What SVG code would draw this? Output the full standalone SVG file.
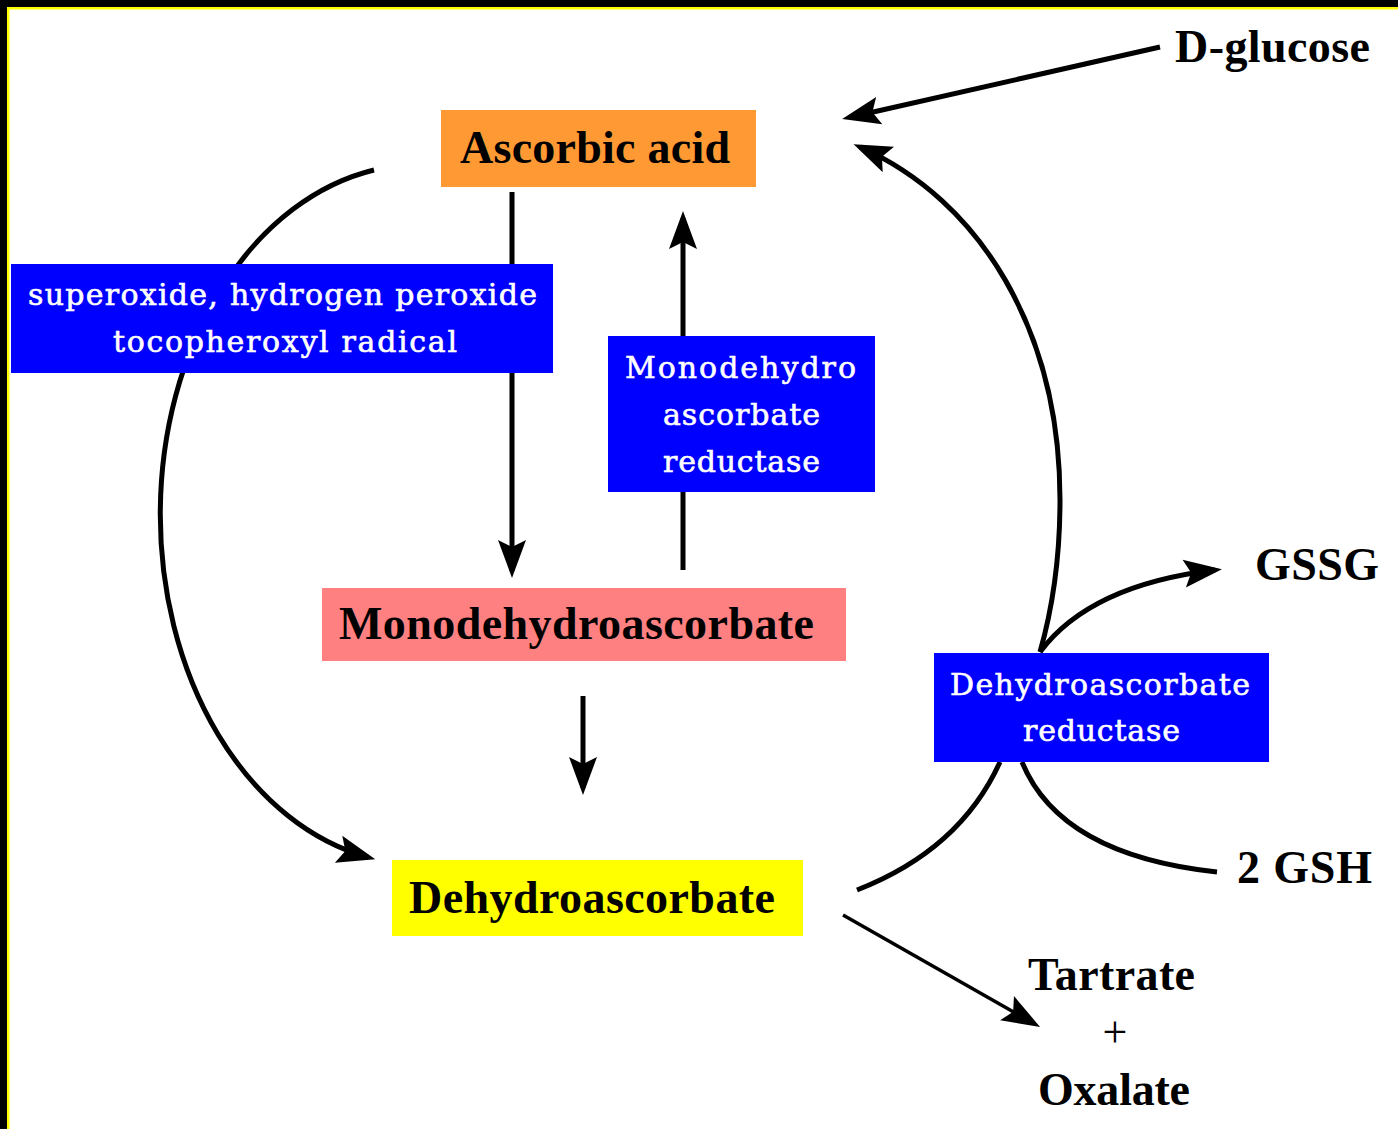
<svg xmlns="http://www.w3.org/2000/svg" width="1398" height="1129" viewBox="0 0 1398 1129">
<defs>
<marker id="ah" markerUnits="userSpaceOnUse" markerWidth="60" markerHeight="40" viewBox="-40 -20 60 40" refX="0" refY="0" orient="auto" overflow="visible">
<path d="M7,0 L-31,-14 L-24,0 L-31,14 Z" fill="#000"/>
</marker>
</defs>
<style>
.ln{fill:none;stroke:#000;stroke-width:5}
.thin{fill:none;stroke:#000;stroke-width:3.5}
.blk{font-family:"Liberation Serif","Times New Roman",serif;font-weight:bold;font-size:46px;fill:#000}
.wht{font-family:"DejaVu Serif",serif;font-size:30px;fill:#fff;stroke:#fff;stroke-width:0.6}
.enz{fill:#0000ff}
</style>
<rect x="0" y="0" width="1398" height="1129" fill="#fff"/>
<rect x="0" y="0" width="1398" height="7" fill="#000"/>
<rect x="0" y="0" width="7" height="1129" fill="#000"/>
<rect x="7" y="7" width="1391" height="2.5" fill="#ffff00"/>
<rect x="7" y="7" width="2.5" height="1122" fill="#ffff00"/>

<g id="connectors">
<line class="ln" x1="1160" y1="47" x2="849" y2="117.5" marker-end="url(#ah)"/>
<path class="ln" d="M1040,652 C1052,610 1060,560 1060,500 C1060,330 980,200 860,147" marker-end="url(#ah)"/>
<line class="ln" x1="512" y1="192" x2="512" y2="571" marker-end="url(#ah)"/>
<line class="ln" x1="683" y1="570" x2="683" y2="218" marker-end="url(#ah)"/>
<line class="ln" x1="583" y1="696" x2="583" y2="788" marker-end="url(#ah)"/>
<path class="ln" d="M374,170 A260,350 0 0 0 368.5,857.4" marker-end="url(#ah)"/>
<path class="ln" d="M857,890 Q960,850 1000,762"/>
<path class="ln" d="M1040,652 Q1090,585 1215,570" marker-end="url(#ah)"/>
<path class="ln" d="M1022,762 Q1060,855 1217,872"/>
<line class="thin" x1="843" y1="915" x2="1034" y2="1023.5" marker-end="url(#ah)"/>
</g>

<g id="ascorbic-acid">
<rect x="441" y="110" width="315" height="77" fill="#ff9933"/>
<text class="blk" x="460" y="163" textLength="270" lengthAdjust="spacing">Ascorbic acid</text>
</g>
<g id="superoxide">
<rect class="enz" x="11" y="264" width="542" height="109"/>
<text class="wht" x="28" y="305" textLength="509" lengthAdjust="spacing">superoxide, hydrogen peroxide</text>
<text class="wht" x="113" y="352" textLength="344" lengthAdjust="spacing">tocopheroxyl radical</text>
</g>
<g id="mdha-reductase">
<rect class="enz" x="608" y="336" width="267" height="156"/>
<text class="wht" x="625" y="378" textLength="231" lengthAdjust="spacing">Monodehydro</text>
<text class="wht" x="663" y="425" textLength="157" lengthAdjust="spacing">ascorbate</text>
<text class="wht" x="663" y="472" textLength="157" lengthAdjust="spacing">reductase</text>
</g>
<g id="monodehydroascorbate">
<rect x="322" y="588" width="524" height="73" fill="#ff8080"/>
<text class="blk" x="339" y="639" textLength="475" lengthAdjust="spacing">Monodehydroascorbate</text>
</g>
<g id="dehydroascorbate">
<rect x="392" y="860" width="411" height="76" fill="#ffff00"/>
<text class="blk" x="409" y="913" textLength="366" lengthAdjust="spacing">Dehydroascorbate</text>
</g>
<g id="dha-reductase">
<rect class="enz" x="934" y="653" width="335" height="109"/>
<text class="wht" x="950" y="695" textLength="300" lengthAdjust="spacing">Dehydroascorbate</text>
<text class="wht" x="1023" y="741" textLength="157" lengthAdjust="spacing">reductase</text>
</g>
<g id="d-glucose">
<text class="blk" x="1175" y="62" textLength="195" lengthAdjust="spacing">D-glucose</text>
</g>
<g id="gssg">
<text class="blk" x="1255" y="580" textLength="124" lengthAdjust="spacing">GSSG</text>
</g>
<g id="gsh">
<text class="blk" x="1237" y="883" textLength="135" lengthAdjust="spacing">2 GSH</text>
</g>
<g id="tartrate-oxalate">
<text class="blk" x="1028" y="990" textLength="167" lengthAdjust="spacing">Tartrate</text>
<text x="1115" y="1047" text-anchor="middle" font-family="Liberation Serif, serif" font-size="44" fill="#000">+</text>
<text class="blk" x="1038" y="1105" textLength="152" lengthAdjust="spacing">Oxalate</text>
</g>
</svg>
